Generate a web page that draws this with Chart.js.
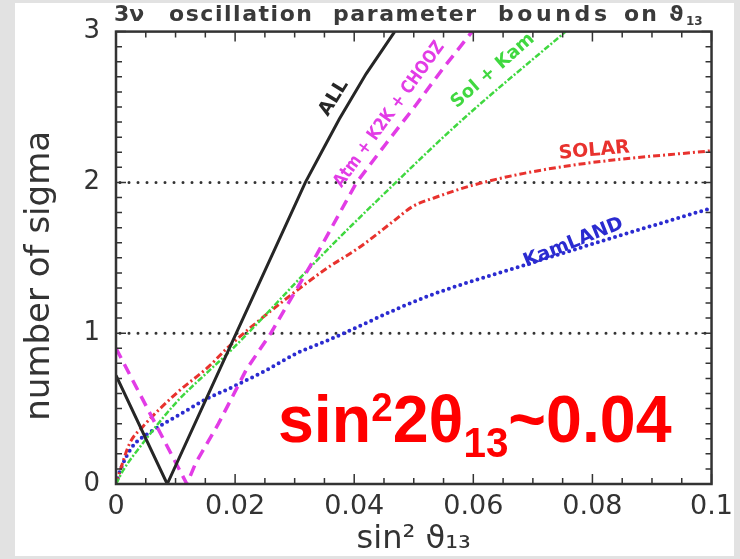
<!DOCTYPE html>
<html>
<head>
<meta charset="utf-8">
<title>3nu oscillation parameter bounds on theta13</title>
<script src="https://cdn.jsdelivr.net/npm/chart.js@4.4.1/dist/chart.umd.min.js"></script>
<style>
    html, body { margin: 0; padding: 0; background: #fff; }
    #wrap { width: 740px; height: 559px; }
</style>
</head>
<body>
<div id="wrap"><canvas id="chart" width="740" height="559"></canvas></div>
<script>
// axis ticks
const xTicks = [0, 0.02, 0.04, 0.06, 0.08, 0.1];
const yTicks = [0, 1, 2, 3];
const sigmaLines = [1, 2];

// ALL (solid black)
const allX = [0, 0.0086, 0.0202, 0.0318, 0.0345, 0.0375, 0.042, 0.0468];
const allY = [0.72, 0, 1.0, 2.0, 2.2, 2.42, 2.72, 3.0];

// Atm + K2K + CHOOZ (magenta dashed)
const atmX = [0, 0.0119, 0.0134, 0.0172, 0.0197, 0.0219, 0.026, 0.0334, 0.0404, 0.0454, 0.0503, 0.0548, 0.0598];
const atmY = [0.90, 0, 0.14, 0.40, 0.59, 0.76, 1.0, 1.5, 2.0, 2.26, 2.51, 2.75, 3.0];

// Sol + Kam (green)
const solKamX = [0, 0.0012, 0.0045, 0.0101, 0.0156, 0.0194, 0.0354, 0.047, 0.058, 0.0755];
const solKamY = [0, 0.09, 0.27, 0.54, 0.75, 0.89, 1.55, 2.0, 2.41, 3.0];

// SOLAR (red)
const solarX = [0, 0.0007, 0.0023, 0.0045, 0.0101, 0.0156, 0.0189, 0.0283, 0.0354, 0.0409, 0.0465, 0.0498, 0.0536, 0.0598, 0.0685, 0.0796, 0.1];
const solarY = [0, 0.09, 0.27, 0.38, 0.60, 0.78, 0.91, 1.22, 1.43, 1.57, 1.74, 1.84, 1.90, 1.98, 2.06, 2.13, 2.21];

// KamLAND (blue)
const kamX = [0, 0.0008, 0.0028, 0.0056, 0.0111, 0.015, 0.0194, 0.025, 0.0305, 0.0354, 0.052, 0.0685, 0.084, 0.1];
const kamY = [0, 0.10, 0.25, 0.34, 0.47, 0.56, 0.64, 0.75, 0.87, 0.95, 1.24, 1.45, 1.64, 1.83];

// curve labels (data coordinates)
const curveLabels = [
    { text: 'ALL', x: 0.0366, y: 2.56, angle: -58, color: '#262626', size: 19, squeeze: 1 },
    { text: 'Atm + K2K + CHOOZ', x: 0.0459, y: 2.45, angle: -54, color: '#e23ce6', size: 18, squeeze: 0.84 },
    { text: 'Sol + Kam', x: 0.0633, y: 2.74, angle: -41, color: '#40d840', size: 18, squeeze: 1 },
    { text: 'SOLAR', x: 0.0803, y: 2.21, angle: -5, color: '#e8322e', size: 19, squeeze: 1 },
    { text: 'KamLAND', x: 0.0768, y: 1.60, angle: -22, color: '#2b2bd0', size: 19, squeeze: 1 }
];

// title words: text, left and right edge in px
const titleWords = [
    ['3ν', 114, 143], ['oscillation', 169, 312], ['parameter', 333, 476],
    ['bounds', 498, 607], ['on', 624, 657], ['ϑ', 669, 684]
];

function toPoints(xs, ys) {
    return xs.map((x, i) => ({ x: x, y: ys[i] }));
}

/**
 * 背景、参考虚线、刻度和边框
 */
const framePlugin = {
    id: 'frame',
    beforeDraw(chart) {
        const c = chart.ctx;
        c.save();
        c.fillStyle = '#ffffff';
        c.fillRect(0, 0, chart.width, chart.height);
        c.restore();
    },
    beforeDatasetsDraw(chart) {
        const { ctx: c, chartArea: a, scales: { y } } = chart;
        c.save();
        c.strokeStyle = '#333';
        c.lineWidth = 3;
        c.lineCap = 'round';
        c.setLineDash([0, 9]);
        sigmaLines.forEach(v => {
            const py = y.getPixelForValue(v);
            c.beginPath();
            c.moveTo(a.left + 4, py);
            c.lineTo(a.right, py);
            c.stroke();
        });
        c.restore();
    },
    afterDatasetsDraw(chart) {
        const { ctx: c, chartArea: a, scales: { x, y } } = chart;
        c.save();
        c.strokeStyle = '#333';
        c.lineWidth = 1.5;
        c.beginPath();
        for (let i = 0; i <= 20; i++) {
            const px = x.getPixelForValue(i * 0.005);
            const len = i % 4 === 0 ? 10 : 6;
            c.moveTo(px, a.bottom); c.lineTo(px, a.bottom - len);
            c.moveTo(px, a.top); c.lineTo(px, a.top + len);
        }
        for (let i = 0; i <= 30; i++) {
            const py = y.getPixelForValue(i * 0.1);
            const len = i % 10 === 0 ? 10 : 6;
            c.moveTo(a.left, py); c.lineTo(a.left + len, py);
            c.moveTo(a.right, py); c.lineTo(a.right - len, py);
        }
        c.stroke();
        c.lineWidth = 2.5;
        c.strokeRect(a.left, a.top, a.right - a.left, a.bottom - a.top);
        c.restore();
    }
};

/**
 * 曲线标签、大号公式、标题
 */
const textPlugin = {
    id: 'texts',
    afterDatasetsDraw(chart) {
        const { ctx: c, scales: { x, y } } = chart;

        curveLabels.forEach(l => {
            c.save();
            c.translate(x.getPixelForValue(l.x), y.getPixelForValue(l.y));
            c.rotate(l.angle * Math.PI / 180);
            c.scale(l.squeeze, 1);
            c.font = `bold ${l.size}px "DejaVu Sans"`;
            c.fillStyle = l.color;
            c.textAlign = 'center';
            c.textBaseline = 'middle';
            c.fillText(l.text, 0, 0);
            c.restore();
        });

        // sin^2 2theta_13 ~ 0.04
        const parts = [
            { t: 'sin', size: 67, dy: 0 },
            { t: '2', size: 40, dy: -21 },
            { t: '2θ', size: 67, dy: 0 },
            { t: '13', size: 42, dy: 15 },
            { t: '~0.04', size: 67, dy: 0 }
        ];
        c.save();
        let natural = 0;
        parts.forEach(p => {
            c.font = `bold ${p.size}px "Liberation Sans", Arial, sans-serif`;
            p.w = c.measureText(p.t).width;
            natural += p.w;
        });
        const left = x.getPixelForValue(0.0272);
        const right = x.getPixelForValue(0.0933);
        const base = y.getPixelForValue(0.278);
        const sx = (right - left) / natural;
        c.translate(left, base);
        c.scale(sx, 1);
        c.fillStyle = '#ff0000';
        c.textBaseline = 'alphabetic';
        let cx = 0;
        parts.forEach(p => {
            c.font = `bold ${p.size}px "Liberation Sans", Arial, sans-serif`;
            c.fillText(p.t, cx, p.dy);
            cx += p.w;
        });
        c.restore();
    },
    afterDraw(chart) {
        const c = chart.ctx;
        const a = chart.chartArea;
        c.save();
        // title, each word stretched to its slot
        c.fillStyle = '#3a3a3a';
        c.textBaseline = 'alphabetic';
        c.font = 'bold 22px "DejaVu Sans"';
        titleWords.forEach(([w, x0, x1]) => {
            c.letterSpacing = '0px';
            const nat = c.measureText(w).width;
            const n = Array.from(w).length;
            const sp = n > 1 ? Math.max(0, (x1 - x0 - nat) / (n - 1)) : 0;
            c.letterSpacing = sp + 'px';
            c.fillText(w, x0, 21);
        });
        c.letterSpacing = '0px';
        c.font = 'bold 12px "DejaVu Sans"';
        c.fillText('13', 686, 25);

        // y axis title
        c.save();
        c.translate(40, (a.top + a.bottom) / 2 + 18);
        c.rotate(-Math.PI / 2);
        c.font = '34px "DejaVu Sans"';
        c.fillStyle = '#333';
        c.textAlign = 'center';
        c.textBaseline = 'middle';
        c.fillText('number of sigma', 0, 0);
        c.restore();

        // screenshot frame
        c.fillStyle = '#e2e2e2';
        c.fillRect(0, 0, 15, chart.height);
        c.fillRect(734, 0, chart.width - 734, chart.height);
        c.fillRect(0, 0, chart.width, 3);
        c.fillRect(0, 556, chart.width, chart.height - 556);
        c.restore();
    }
};

function buildChart() {
    const ctx = document.getElementById('chart').getContext('2d');

    const datasets = [
        {
            label: 'ALL',
            data: toPoints(allX, allY),
            borderColor: '#262626',
            borderWidth: 3,
            tension: 0
        },
        {
            label: 'Atm + K2K + CHOOZ',
            data: toPoints(atmX, atmY),
            borderColor: '#e23ce6',
            borderWidth: 3.5,
            borderDash: [11, 7],
            tension: 0
        },
        {
            label: 'Sol + Kam',
            data: toPoints(solKamX, solKamY),
            borderColor: '#40d840',
            borderWidth: 2.5,
            borderDash: [6, 2, 2, 2],
            cubicInterpolationMode: 'monotone'
        },
        {
            label: 'SOLAR',
            data: toPoints(solarX, solarY),
            borderColor: '#e8322e',
            borderWidth: 3,
            borderDash: [7, 3, 2, 3],
            cubicInterpolationMode: 'monotone'
        },
        {
            label: 'KamLAND',
            data: toPoints(kamX, kamY),
            borderColor: '#2b2bd0',
            borderWidth: 4,
            borderDash: [0, 6],
            borderCapStyle: 'round',
            cubicInterpolationMode: 'monotone'
        }
    ];
    datasets.forEach(d => { d.pointRadius = 0; d.fill = false; });

    new Chart(ctx, {
        type: 'line',
        data: { datasets: datasets },
        options: {
            responsive: false,
            animation: false,
            layout: { padding: { left: 0, top: 30, right: 20, bottom: 0 } },
            plugins: {
                legend: { display: false },
                title: { display: false },
                tooltip: { enabled: false }
            },
            scales: {
                x: {
                    type: 'linear',
                    min: 0,
                    max: 0.1,
                    afterBuildTicks: s => { s.ticks = xTicks.map(v => ({ value: v })); },
                    afterFit: s => { s.height = 75; },
                    grid: { display: false, drawTicks: false },
                    border: { display: false },
                    ticks: {
                        color: '#333',
                        padding: 7,
                        maxRotation: 0,
                        font: { family: 'DejaVu Sans', size: 27 },
                        callback: v => (v === 0 ? '0' : String(+v.toFixed(2)))
                    },
                    title: {
                        display: true,
                        text: 'sin² ϑ₁₃',
                        color: '#333',
                        font: { family: 'DejaVu Sans', size: 32 },
                        padding: { top: 0, bottom: 0 }
                    }
                },
                y: {
                    type: 'linear',
                    min: 0,
                    max: 3,
                    afterBuildTicks: s => { s.ticks = yTicks.map(v => ({ value: v })); },
                    afterFit: s => { s.width = 116; },
                    grid: { display: false, drawTicks: false },
                    border: { display: false },
                    ticks: {
                        color: '#333',
                        padding: 16,
                        font: { family: 'DejaVu Sans', size: 26 }
                    }
                }
            }
        },
        plugins: [framePlugin, textPlugin]
    });
}

buildChart();
</script>
</body>
</html>
